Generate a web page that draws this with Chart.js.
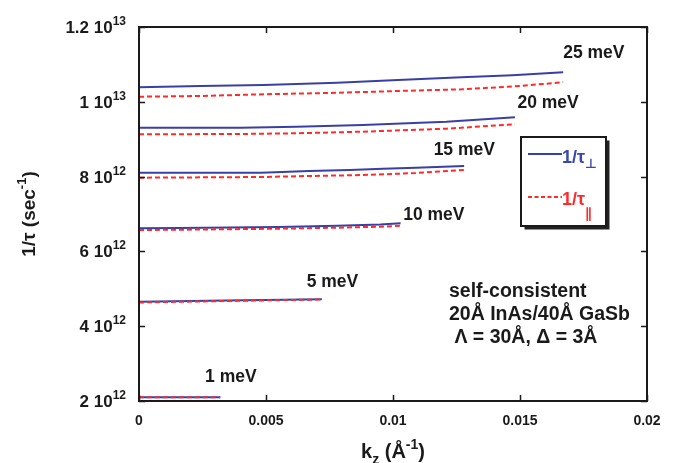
<!DOCTYPE html>
<html><head><meta charset="utf-8">
<script src="https://cdn.jsdelivr.net/npm/chart.js@4/dist/chart.umd.min.js"></script>
<style>html,body{margin:0;padding:0;background:#fff;}#wrap{width:681px;height:463px;position:relative;}</style>
</head><body><div id="wrap"><canvas id="c" width="681" height="463"></canvas></div>
<script>
// ---- data (1/tau in units of 1e12 s^-1, kz in 1/Angstrom) ----
const energies = ['1 meV', '5 meV', '10 meV', '15 meV', '20 meV', '25 meV'];

const kz1 = [0, 0.0032];
const perp1 = [2.099, 2.099];
const par1 = [2.097, 2.097];

const kz5 = [0, 0.0034, 0.0072];
const perp5 = [4.655, 4.687, 4.719];
const par5 = [4.634, 4.674, 4.714];

const kz10 = [0, 0.0016, 0.0055, 0.0078, 0.0095, 0.0103];
const perp10 = [6.618, 6.626, 6.652, 6.684, 6.719, 6.751];
const par10 = [6.572, 6.580, 6.607, 6.634, 6.660, 6.687];

const kz15 = [0, 0.0048, 0.0067, 0.0083, 0.0096, 0.0109, 0.0128];
const perp15 = [8.104, 8.104, 8.150, 8.176, 8.211, 8.238, 8.283];
const par15 = [7.971, 7.989, 8.016, 8.035, 8.061, 8.096, 8.176];

const kz20 = [0, 0.0040, 0.0062, 0.0088, 0.0121, 0.0148];
const perp20 = [9.308, 9.308, 9.334, 9.380, 9.468, 9.586];
const par20 = [9.131, 9.139, 9.158, 9.201, 9.281, 9.398];

const kz25 = [0, 0.0024, 0.0049, 0.0078, 0.0102, 0.0127, 0.0147, 0.0167];
const perp25 = [10.388, 10.422, 10.449, 10.511, 10.583, 10.655, 10.709, 10.789];
const par25 = [10.136, 10.155, 10.201, 10.241, 10.289, 10.334, 10.409, 10.521];

// energy-label anchor points (data coords)
const labelKz = [0.0026, 0.0066, 0.0104, 0.0116, 0.0149, 0.0167];
const labelVal = [2.642, 5.182, 6.973, 8.711, 9.968, 11.297];

// ticks
const xTicks = [0, 0.005, 0.01, 0.015, 0.02];
const xTickLabels = ['0', '0.005', '0.01', '0.015', '0.02'];
const yTicks = [2, 4, 6, 8, 10, 12];
const yTickMantissa = ['2', '4', '6', '8', '1', '1.2'];
const yTickExp = ['12', '12', '12', '12', '13', '13'];

const noteLines = ['self-consistent', '20\u00C5 InAs/40\u00C5 GaSb', ' \u039B = 30\u00C5, \u0394 = 3\u00C5'];

// ---- build datasets ----
const BLUE = '#3a3fa6';
const RED = '#ff2b2b';
const curves = [
  [kz1, perp1, par1], [kz5, perp5, par5], [kz10, perp10, par10],
  [kz15, perp15, par15], [kz20, perp20, par20], [kz25, perp25, par25]
];
const datasets = [];
curves.forEach((c, i) => {
  const [k, pe, pa] = c;
  datasets.push({
    label: '1/\u03C4\u22A5 ' + energies[i],
    data: k.map((v, j) => ({x: v, y: pe[j]})),
    borderColor: BLUE, borderWidth: 2, pointRadius: 0, showLine: true, order: 1, tension: 0
  });
  datasets.push({
    label: '1/\u03C4\u2225 ' + energies[i],
    data: k.map((v, j) => ({x: v, y: pa[j]})),
    borderColor: RED, borderWidth: 2, borderDash: [5, 3], pointRadius: 0, showLine: true, order: 0, tension: 0
  });
});

const FONT = '"Liberation Sans", Arial, "DejaVu Sans", sans-serif';
function f(sz) { return 'bold ' + sz + 'px ' + FONT; }

// draw a sequence of text parts [{t, size, dy}] starting at x (left) with baseline y
function partsWidth(ctx, parts) {
  let w = 0;
  parts.forEach(p => { ctx.font = f(p.size); w += ctx.measureText(p.t).width; });
  return w;
}
function drawParts(ctx, parts, x, y) {
  let cx = x;
  parts.forEach(p => {
    ctx.font = f(p.size);
    ctx.fillText(p.t, cx, y + (p.dy || 0));
    cx += ctx.measureText(p.t).width;
  });
}

const decor = {
  id: 'decor',
  afterDraw(chart) {
    const ctx = chart.ctx, a = chart.chartArea, xs = chart.scales.x, ys = chart.scales.y;
    ctx.save();
    ctx.textAlign = 'left';
    ctx.textBaseline = 'alphabetic';
    // frame
    ctx.strokeStyle = '#1a1a1a';
    ctx.lineWidth = 2;
    ctx.setLineDash([]);
    ctx.strokeRect(a.left, a.top, a.right - a.left, a.bottom - a.top);
    // inward ticks
    ctx.lineWidth = 1.5;
    const TL = 6;
    ctx.beginPath();
    xTicks.forEach(v => {
      const px = Math.round(xs.getPixelForValue(v)) + 0.5;
      ctx.moveTo(px, a.bottom); ctx.lineTo(px, a.bottom - TL);
      ctx.moveTo(px, a.top); ctx.lineTo(px, a.top + TL);
    });
    yTicks.forEach(v => {
      const py = Math.round(ys.getPixelForValue(v)) + 0.5;
      ctx.moveTo(a.left, py); ctx.lineTo(a.left + TL, py);
      ctx.moveTo(a.right, py); ctx.lineTo(a.right - TL, py);
    });
    ctx.stroke();

    ctx.fillStyle = '#1a1a1a';
    // x tick labels
    ctx.font = f(14);
    ctx.textAlign = 'center';
    xTicks.forEach((v, i) => {
      ctx.fillText(xTickLabels[i], xs.getPixelForValue(v), a.bottom + 24);
    });
    ctx.textAlign = 'left';
    // y tick labels with superscript exponents
    yTicks.forEach((v, i) => {
      const py = ys.getPixelForValue(v);
      const parts = [{t: yTickMantissa[i] + ' 10', size: 17}, {t: yTickExp[i], size: 12, dy: -8}];
      const w = partsWidth(ctx, parts);
      drawParts(ctx, parts, a.left - 13 - w, py + 6);
    });

    // x axis title: k_z (Å^-1)
    {
      const parts = [{t: 'k', size: 20}, {t: 'z', size: 14, dy: 6}, {t: ' (\u00C5', size: 20}, {t: '-1', size: 14, dy: -9}, {t: ')', size: 20}];
      const w = partsWidth(ctx, parts);
      drawParts(ctx, parts, (a.left + a.right) / 2 - w / 2, 458);
    }
    // y axis title: 1/tau (sec^-1), rotated
    {
      ctx.save();
      ctx.translate(35, (a.top + a.bottom) / 2);
      ctx.rotate(-Math.PI / 2);
      const parts = [{t: '1/\u03C4 (sec', size: 19}, {t: '-1', size: 13, dy: -9}, {t: ')', size: 19}];
      const w = partsWidth(ctx, parts);
      drawParts(ctx, parts, -w / 2, 0);
      ctx.restore();
    }

    // energy labels
    ctx.textBaseline = 'middle';
    ctx.font = f(17.5);
    energies.forEach((e, i) => {
      ctx.fillText(e, xs.getPixelForValue(labelKz[i]), ys.getPixelForValue(labelVal[i]));
    });
    ctx.textBaseline = 'alphabetic';

    // annotation
    ctx.font = f(19.5);
    const noteY = [297, 320, 343];
    noteLines.forEach((s, i) => ctx.fillText(s, 449, noteY[i]));

    // legend box with shadow
    const bx = 521, by = 137, bw = 85, bh = 89;
    ctx.fillStyle = '#222';
    ctx.fillRect(bx + 3.5, by + 3.5, bw, bh);
    ctx.fillStyle = '#fff';
    ctx.fillRect(bx, by, bw, bh);
    ctx.strokeStyle = '#1a1a1a';
    ctx.lineWidth = 2;
    ctx.strokeRect(bx, by, bw, bh);
    // entries
    ctx.lineWidth = 2;
    ctx.strokeStyle = BLUE;
    ctx.beginPath(); ctx.moveTo(528, 154); ctx.lineTo(562, 154); ctx.stroke();
    ctx.strokeStyle = RED;
    ctx.setLineDash([4, 2.5]);
    ctx.beginPath(); ctx.moveTo(528, 197); ctx.lineTo(562, 197); ctx.stroke();
    ctx.setLineDash([]);
    ctx.fillStyle = '#3a48ac';
    drawParts(ctx, [{t: '1/\u03C4', size: 18}, {t: '\u22A5', size: 13, dy: 5}], 562, 163);
    ctx.fillStyle = RED;
    drawParts(ctx, [{t: '1/\u03C4', size: 18}, {t: '\u2225', size: 14, dy: 13}], 562, 205);

    ctx.restore();
  }
};

new Chart(document.getElementById('c'), {
  type: 'scatter',
  data: {datasets},
  options: {
    responsive: false,
    animation: false,
    devicePixelRatio: 1,
    layout: {padding: {left: 139, right: 34, top: 27, bottom: 62}},
    plugins: {legend: {display: false}, tooltip: {enabled: false}},
    scales: {
      x: {type: 'linear', min: 0, max: 0.02, display: false},
      y: {type: 'linear', min: 2, max: 12, display: false}
    }
  },
  plugins: [decor]
});
</script>
</body></html>
